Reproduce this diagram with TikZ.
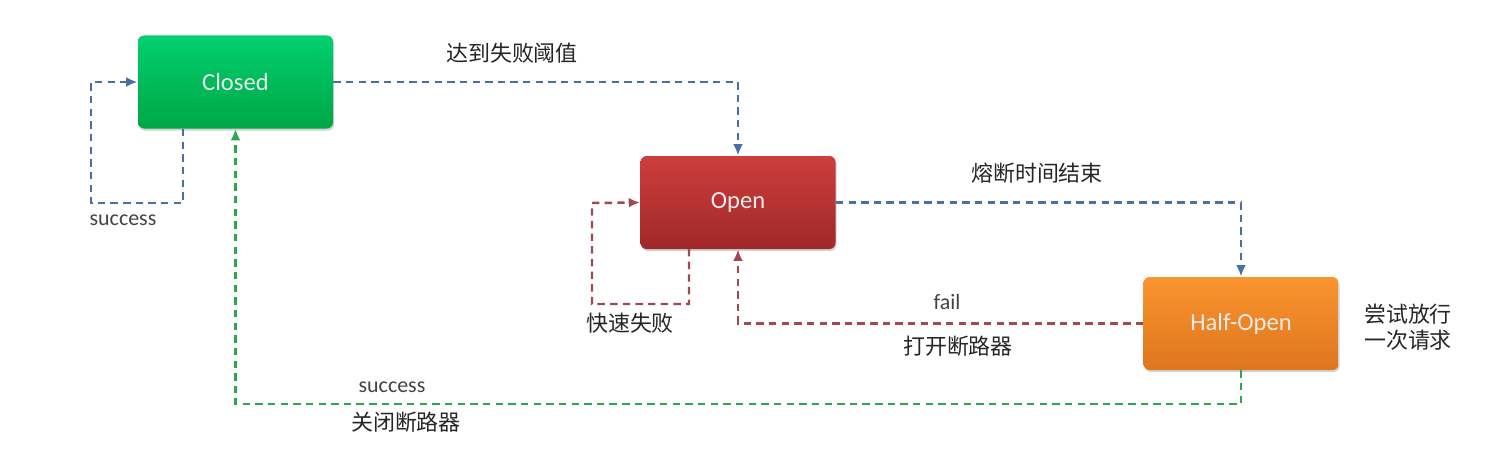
\documentclass[tikz,border=0pt]{standalone}
\usepackage{fontspec}
\setmainfont{Carlito}
\newfontfamily\cjk{Noto Sans CJK SC}
\usetikzlibrary{arrows.meta,shadows}
\definecolor{cblue}{HTML}{4A6FA5}
\definecolor{cred}{HTML}{A5474E}
\definecolor{cgreen}{HTML}{2EA84F}
\definecolor{lbl}{HTML}{444444}
\tikzset{
  statebox/.style={rounded corners=3.5pt, minimum width=195*0.02cm, minimum height=93*0.02cm,
    text=white!92!black, font=\fontsize{14}{16}\selectfont,
    drop shadow={shadow xshift=0.6pt, shadow yshift=-1.2pt, opacity=0.35, fill=gray}},
  link/.style={line width=1.4pt, dash pattern=on 4.2pt off 3pt, -{Latex[length=6.5pt,width=5.5pt]}},
  cnlabel/.style={font=\cjk\fontsize{12.5}{15}\selectfont, text=black!85},
  enlabel/.style={font=\fontsize{12.5}{15}\selectfont, text=lbl},
}
\begin{document}
\begin{tikzpicture}[x=0.02cm, y=-0.02cm]
\useasboundingbox (0,0) rectangle (1487,456);
\node[statebox, top color={rgb,255:red,0;green,208;blue,112}, bottom color={rgb,255:red,0;green,166;blue,68}] (closed) at (235.5,82) {\raisebox{-1.5pt}{Closed}};
\node[statebox, top color={rgb,255:red,205;green,62;blue,60}, bottom color={rgb,255:red,160;green,40;blue,42}] (open) at (738,202.5) {\raisebox{-1.5pt}{Open}};
\node[statebox, top color={rgb,255:red,250;green,148;blue,46}, bottom color={rgb,255:red,222;green,118;blue,30}] (half) at (1241,323.5) {\raisebox{-1.5pt}{Half-Open}};

\coordinate (c1) at (183,129);
\coordinate (o1) at (689,249);

% Closed -> Open
\draw[link, cblue] (closed.east) -| (open.north);
\node[cnlabel] at (512,53) {达到失败阈值};
% Closed self loop
\draw[link, cblue] (c1) -- (183,203) -- (91,203) -- (91,82) -- (closed.west);
\node[enlabel] at (123,220) {success};
% Open -> Half-Open
\draw[link, cblue] (open.east) -| (half.north);
\node[cnlabel] at (1037,173) {熔断时间结束};
% Open self loop
\draw[link, cred] (o1) -- (689,304) -- (592,304) -- (592,203) -- (open.west);
\node[cnlabel] at (630,323) {快速失败};
% Half-Open -> Open
\draw[link, cred] (half.west) -| (open.south);
\node[enlabel] at (947,302) {fail};
\node[cnlabel] at (958,346) {打开断路器};
% Half-Open -> Closed
\draw[link, cgreen] (half.south) -- (1241,404) -| (closed.south);
\node[enlabel] at (392,387) {success};
\node[cnlabel] at (406,422) {关闭断路器};
% side note
\node[cnlabel, align=left] at (1408,327) {尝试放行\\一次请求};
\end{tikzpicture}
\end{document}
